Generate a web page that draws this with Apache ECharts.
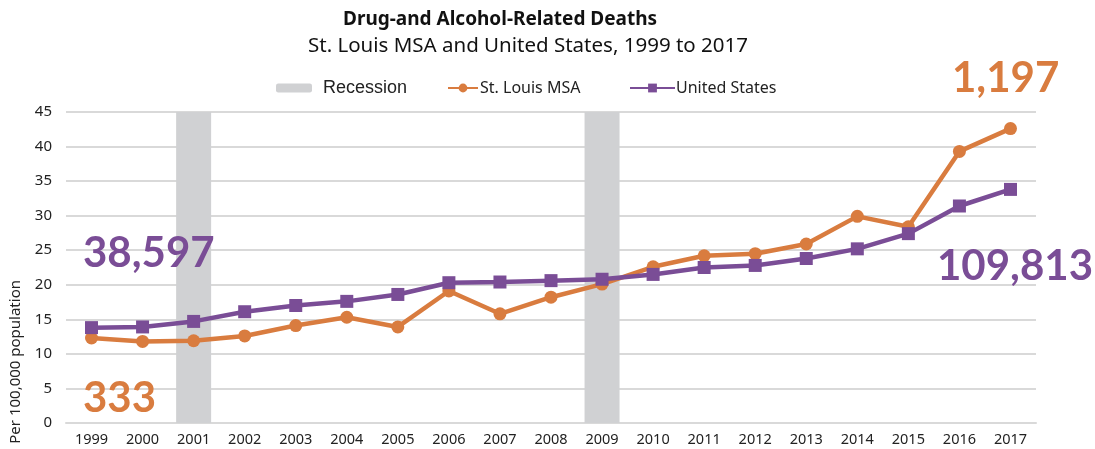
<!DOCTYPE html>
<html>
<head>
<meta charset="utf-8">
<script src="https://cdn.jsdelivr.net/npm/echarts@6/dist/echarts.min.js"></script>
<style>
  html, body { margin: 0; padding: 0; background: #ffffff; }
  #chart { width: 1095px; height: 449px; }
</style>
</head>
<body>
<div id="chart"></div>
<script>
// Years on the horizontal axis
const years = ['1999','2000','2001','2002','2003','2004','2005','2006','2007','2008',
               '2009','2010','2011','2012','2013','2014','2015','2016','2017'];

// Drug- and alcohol-related deaths per 100,000 population
const stLouis = [12.3, 11.8, 11.9, 12.6, 14.1, 15.3, 13.9, 19.1, 15.8, 18.2,
                 20.1, 22.6, 24.2, 24.5, 25.9, 29.9, 28.4, 39.3, 42.6];
const unitedStates = [13.8, 13.9, 14.7, 16.1, 17.0, 17.6, 18.6, 20.3, 20.4, 20.6,
                      20.8, 21.5, 22.5, 22.8, 23.8, 25.2, 27.4, 31.4, 33.8];

// Recession years, shaded to the top of the value axis
const recessionYears = ['2001', '2009'];
const axisMax = 45;
const recession = years.map(y => recessionYears.includes(y) ? axisMax : null);

// Death counts printed beside the lines
const usCount1999 = '38,597';
const usCount2017 = '109,813';
const stlCount1999 = '333';
const stlCount2017 = '1,197';

const orange = '#d97c3f';
const purple = '#7a4d96';
const band = '#d0d1d3';
const gridGrey = '#d9d9d9';
const uiFont = '"Noto Sans", "DejaVu Sans", sans-serif';
const bigFont = 'Lato, "Open Sans", sans-serif';

function countLabel(text, left, top, color) {
  return {
    type: 'text', left: left, top: top, z: 100,
    style: { text: text, fontFamily: bigFont, fontSize: 42, fontWeight: 'bold', fill: color }
  };
}

const chart = echarts.init(document.getElementById('chart'));

chart.setOption({
  animation: false,
  backgroundColor: '#ffffff',
  title: [
    {
      text: 'Drug-and Alcohol-Related Deaths',
      left: 338, top: 5,
      textStyle: { fontFamily: uiFont, fontSize: 19, fontWeight: 'bold', color: '#111' }
    },
    {
      text: 'St. Louis MSA and United States, 1999 to 2017',
      left: 303, top: 31,
      textStyle: { fontFamily: uiFont, fontSize: 20.5, fontWeight: 'normal', color: '#111' }
    }
  ],
  legend: [
    {
      data: ['Recession'], left: 271, top: 74,
      itemWidth: 36, itemHeight: 9,
      textStyle: { fontFamily: '"Liberation Sans", Arial, sans-serif', fontSize: 18, color: '#222', padding: [0, 0, 0, 6] }
    },
    {
      data: ['St. Louis MSA'], left: 442, top: 75,
      itemWidth: 30, itemHeight: 11,
      textStyle: { fontFamily: uiFont, fontSize: 16, color: '#222', padding: [0, 0, 0, -3] }
    },
    {
      data: ['United States'], left: 624, top: 75,
      itemWidth: 45, itemHeight: 11,
      textStyle: { fontFamily: uiFont, fontSize: 16, color: '#222', padding: [0, 0, 0, -4] }
    }
  ],
  grid: { left: 66, right: 59, top: 112, bottom: 26, containLabel: false },
  xAxis: {
    type: 'category',
    data: years,
    boundaryGap: true,
    axisLine: { lineStyle: { color: gridGrey, width: 2 } },
    axisTick: { show: false },
    axisLabel: { fontFamily: uiFont, fontSize: 14.5, color: '#222', margin: 9 }
  },
  yAxis: {
    type: 'value',
    min: 0, max: axisMax, interval: 5,
    axisLine: { show: false },
    axisTick: { show: false },
    axisLabel: { fontFamily: uiFont, fontSize: 15, color: '#222', margin: 14 },
    splitLine: { lineStyle: { color: gridGrey, width: 2 } }
  },
  series: [
    {
      name: 'Recession',
      type: 'bar',
      data: recession,
      barWidth: 35,
      itemStyle: { color: band },
      z: 1
    },
    {
      name: 'St. Louis MSA',
      type: 'line',
      data: stLouis,
      symbol: 'circle',
      symbolSize: 13,
      lineStyle: { color: orange, width: 4.5 },
      itemStyle: { color: orange },
      z: 3
    },
    {
      name: 'United States',
      type: 'line',
      data: unitedStates,
      symbol: 'rect',
      symbolSize: 13,
      lineStyle: { color: purple, width: 4.5 },
      itemStyle: { color: purple },
      z: 4
    }
  ],
  graphic: [
    {
      type: 'text', left: 8, top: 280, rotation: Math.PI / 2, z: 100,
      style: { text: 'Per 100,000 population', fontFamily: uiFont, fontSize: 15, fill: '#222' }
    },
    countLabel(usCount1999, 83, 232, purple),
    countLabel(stlCount1999, 83, 377, orange),
    countLabel(stlCount2017, 952, 57, orange),
    countLabel(usCount2017, 937, 245, purple)
  ]
});
</script>
</body>
</html>
